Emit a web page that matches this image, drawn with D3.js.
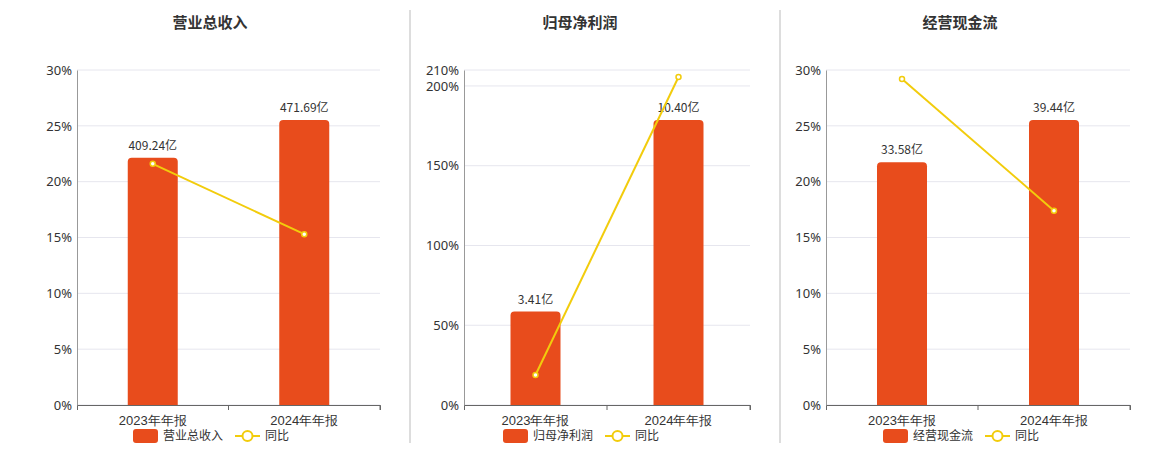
<!DOCTYPE html><html><head><meta charset="utf-8">
<script src="https://cdn.jsdelivr.net/npm/d3@7"></script>
<style>body{margin:0;background:#fff;font-family:"Noto Sans CJK SC","Noto Sans",sans-serif}</style></head><body>
<svg id="c" width="1160" height="450"></svg>
<script>
const categories=["2023年年报","2024年年报"];
const titles=["营业总收入","归母净利润","经营现金流"];
const barValues=[[409.24,471.69],[3.41,10.40],[33.58,39.44]];
const barLabels=[["409.24亿","471.69亿"],["3.41亿","10.40亿"],["33.58亿","39.44亿"]];
const yoyValues=[[21.6,15.3],[18.8,205.6],[29.2,17.4]];
const yTicks=[[0,5,10,15,20,25,30],[0,50,100,150,200,210],[0,5,10,15,20,25,30]];
const yMax=[30,210,30];
const panels=[{x0:77,x1:380,cx:210},{x0:464,x1:750,cx:580},{x0:826,x1:1130,cx:960}];
const barColor="#E84C1C",lineColor="#F2CC0C";
const svg=d3.select("#c");
[410,780].forEach(x=>svg.append("line").attr("x1",x).attr("x2",x).attr("y1",10).attr("y2",443).attr("stroke","#bbb"));
panels.forEach((p,i)=>{
  const g=svg.append("g");
  g.append("text").attr("x",p.cx).attr("y",28).attr("text-anchor","middle").attr("font-size",15).attr("font-weight","bold").attr("fill","#333").text(titles[i]);
  const x=d3.scaleBand().domain(categories).range([p.x0,p.x1]);
  const y=d3.scaleLinear().domain([0,yMax[i]]).range([405,70]);
  const mb=d3.max(barValues[i]);
  const yb=d3.scaleLinear().domain([0,mb*335/285]).range([405,70]);
  yTicks[i].forEach(t=>g.append("line").attr("x1",p.x0).attr("x2",p.x1).attr("y1",y(t)).attr("y2",y(t)).attr("stroke","#e6e6ee"));
  const ya=g.append("g").attr("transform",`translate(${p.x0},0)`).call(d3.axisLeft(y).tickValues(yTicks[i]).tickFormat(d=>d+"%").tickSize(0).tickPadding(5));
  ya.select(".domain").attr("stroke","#999");
  ya.selectAll("text").attr("font-size",13).attr("fill","#333").attr("font-family","Noto Sans, sans-serif");
  const xa=g.append("g").attr("transform","translate(0,405)").call(d3.axisBottom(x).tickSize(5).tickSizeOuter(5));
  xa.select(".domain").attr("stroke","#666");
  xa.selectAll("line").attr("stroke","#666");
  xa.selectAll(".tick").each(function(d,j){}).select("line").attr("transform",`translate(${x.bandwidth()/2},0)`);
  xa.selectAll("text").attr("font-size",13).attr("fill","#333").attr("dy","0.9em");
  const bw=50;
  categories.forEach((c,j)=>{
    const cx=x(c)+x.bandwidth()/2, top=yb(barValues[i][j]), h=405-top, r=4;
    g.append("path").attr("fill",barColor).attr("d",`M${cx-bw/2},405V${top+r}Q${cx-bw/2},${top} ${cx-bw/2+r},${top}H${cx+bw/2-r}Q${cx+bw/2},${top} ${cx+bw/2},${top+r}V405Z`);
    g.append("text").attr("x",cx).attr("y",top-8).attr("text-anchor","middle").attr("font-size",12).attr("fill","#333").text(barLabels[i][j]);
  });
  const pts=categories.map((c,j)=>[x(c)+x.bandwidth()/2,y(yoyValues[i][j])]);
  g.append("path").attr("d",d3.line()(pts)).attr("stroke",lineColor).attr("stroke-width",2).attr("fill","none");
  pts.forEach(q=>g.append("circle").attr("cx",q[0]).attr("cy",q[1]).attr("r",2.5).attr("fill","#fff").attr("stroke",lineColor).attr("stroke-width",1.5));
  const lx=p.cx-77;
  g.append("rect").attr("x",lx).attr("y",429).attr("width",25).attr("height",14).attr("rx",3).attr("fill",barColor);
  g.append("text").attr("x",lx+30).attr("y",440).attr("font-size",12).attr("fill","#333").text(titles[i]);
  const lx2=lx+102;
  g.append("line").attr("x1",lx2).attr("x2",lx2+25).attr("y1",436).attr("y2",436).attr("stroke",lineColor).attr("stroke-width",2);
  g.append("circle").attr("cx",lx2+12.5).attr("cy",436).attr("r",5).attr("fill","#fff").attr("stroke",lineColor).attr("stroke-width",2);
  g.append("text").attr("x",lx2+30).attr("y",440).attr("font-size",12).attr("fill","#333").text("同比");
});
</script></body></html>
